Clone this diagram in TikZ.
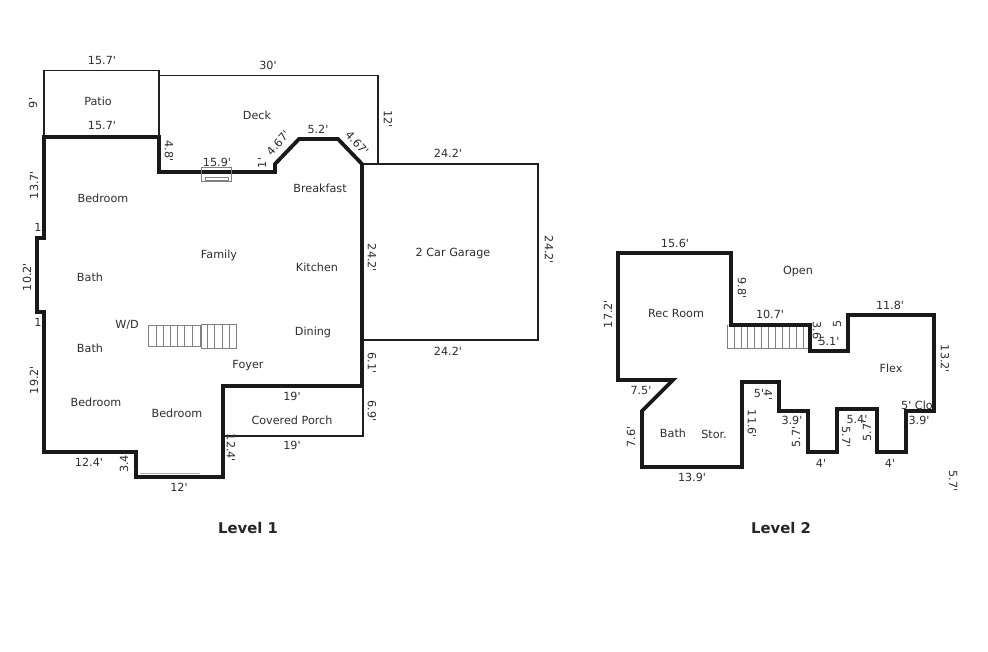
\documentclass[tikz,border=0pt]{standalone}
\usepackage{fontspec}
\setmainfont{DejaVu Sans}[Ligatures=TeXOff]
\tikzset{
  wall/.style={line width=3.8pt,draw=black!90,line join=miter},
  thin wall/.style={line width=1.2pt,draw=black!88},
  stair/.style={line width=0.55pt,draw=black!50},
  lbl/.style={font=\fontsize{11.2}{13}\selectfont,text=black!82,inner sep=0pt},
  up/.style={lbl,rotate=90},
  down/.style={lbl,rotate=-90},
  title/.style={font=\fontsize{14.8}{17}\selectfont\bfseries,text=black!85,inner sep=0pt}
}
\begin{document}
\begin{tikzpicture}[x=1pt,y=-1pt]
\useasboundingbox (0,0) rectangle (988,651);
\fill[white] (0,0) rectangle (988,651);
% Level 1 outlines
\draw[thin wall] (44,137) -- (44,70.7) -- (159,70.7) -- (159,137);
\draw[thin wall] (159,75.7) -- (378,75.7) -- (378,164);
\draw[thin wall] (362,164) -- (538,164) -- (538,340) -- (362,340);
\draw[thin wall] (223,386) -- (223,436) -- (363,436) -- (363,386);
\draw[stair,draw=black!30,line width=1.5pt] (140,473.5) -- (200,473.5);
\draw[wall] (44,137) -- (159,137) -- (159,172) -- (275,172) -- (275,164) -- (299,139) -- (338,139) -- (362,164) -- (362,386) -- (223,386) -- (223,477) -- (136,477) -- (136,452) -- (44,452) -- (44,312) -- (37,312) -- (37,238) -- (44,238) -- cycle;
% window
\draw[stair] (201.7,167) rectangle (231,181);
\draw[stair] (205,177) rectangle (228,180);
% Level 1 stairs
\draw[stair] (148,325) rectangle (200,346);
\foreach \x in {156,163,170,177,184,192} \draw[stair] (\x,325) -- (\x,346);
\draw[stair] (201,324) rectangle (236,348);
\foreach \x in {207,214,222,229} \draw[stair] (\x,324) -- (\x,348);
% Level 2 stairs
\draw[stair] (727,325) -- (727,348) -- (810,348);
\foreach \x in {734,741,747,754,761,768,775,782,789,796,803} \draw[stair] (\x,325) -- (\x,348);
% Level 2 outline
\draw[wall] (618,253) -- (731,253) -- (731,325) -- (810,325) -- (810,351) -- (848,351) -- (848,315) -- (934,315) -- (934,411) -- (906,411) -- (906,452) -- (877,452) -- (877,409) -- (837,409) -- (837,452) -- (808,452) -- (808,411) -- (779,411) -- (779,382) -- (742,382) -- (742,467) -- (642,467) -- (642,411) -- (673,380) -- (618,380) -- cycle;
% Level 1 labels
\node[lbl] (a1) at (102,60) {15.7'};
\node[lbl] (a2) at (98,101) {Patio};
\node[lbl] (a3) at (102,125) {15.7'};
\node[up] (a4) at (33,103) {9'};
\node[lbl] (a5) at (268,65) {30'};
\node[lbl] (a6) at (257,115) {Deck};
\node[down] (a7) at (388,119) {12'};
\node[lbl] (a8) at (318,129) {5.2'};
\node[lbl,rotate=48] (a9) at (278,143) {4.67'};
\node[lbl,rotate=-48] (a10) at (357,143) {4.67'};
\node[up] (a11) at (262,163) {1'};
\node[down] (a12) at (169,151) {4.8'};
\node[lbl] (a13) at (217,162) {15.9'};
\node[up] (a14) at (34,185) {13.7'};
\node[lbl] (a15) at (38,227) {1};
\node[up] (a16) at (27,277) {10.2'};
\node[lbl] (a17) at (38,322) {1};
\node[up] (a18) at (34,380) {19.2'};
\node[lbl] (a19) at (103,198) {Bedroom};
\node[lbl] (a20) at (320,188) {Breakfast};
\node[lbl] (a21) at (219,255) {Family};
\node[lbl] (a22) at (317,267) {Kitchen};
\node[lbl] (a23) at (90,277) {Bath};
\node[lbl] (a24) at (127,325) {W/D};
\node[lbl] (a25) at (90,348) {Bath};
\node[lbl] (a26) at (313,332) {Dining};
\node[lbl] (a27) at (248,366) {Foyer};
\node[lbl] (a28) at (96,402) {Bedroom};
\node[lbl] (a29) at (177,413) {Bedroom};
\node[lbl] (a30) at (292,420) {Covered Porch};
\node[lbl] (a31) at (292,396) {19'};
\node[lbl] (a32) at (292,445) {19'};
\node[down] (a33) at (372,258) {24.2'};
\node[down] (a34) at (372,363) {6.1'};
\node[down] (a35) at (372,411) {6.9'};
\node[down] (a36) at (231,448) {12.4'};
\node[up] (a37) at (124,464) {3.4};
\node[lbl] (a38) at (89,462) {12.4'};
\node[lbl] (a39) at (179,487) {12'};
\node[lbl] (a40) at (448,153) {24.2'};
\node[lbl] (a41) at (453,254) {2 Car Garage};
\node[down] (a42) at (549,250) {24.2'};
\node[lbl] (a43) at (448,351) {24.2'};
\node[title] (a44) at (248,528) {Level 1};
% Level 2 labels
\node[lbl] (b1) at (675,243) {15.6'};
\node[up] (b2) at (608,314) {17.2'};
\node[lbl] (b3) at (676,313) {Rec Room};
\node[down] (b4) at (742,288) {9.8'};
\node[lbl] (b5) at (770,314) {10.7'};
\node[down] (b6) at (817,332) {3.6'};
\node[lbl] (b7) at (829,341) {5.1'};
\node[up] (b8) at (837,324) {5};
\node[lbl] (b9) at (890,305) {11.8'};
\node[down] (b10) at (945,359) {13.2'};
\node[lbl] (b11) at (891,368) {Flex};
\node[lbl] (b12) at (798,272) {Open};
\node[lbl] (b13) at (641,390) {7.5'};
\node[up] (b14) at (631,437) {7.6'};
\node[lbl] (b15) at (673,433) {Bath};
\node[lbl] (b16) at (714,434) {Stor.};
\node[lbl] (b17) at (692,477) {13.9'};
\node[down] (b18) at (752,424) {11.6'};
\node[lbl] (b19) at (759,393) {5'};
\node[down] (b20) at (768,395) {4'};
\node[lbl] (b21) at (792,420) {3.9'};
\node[up] (b22) at (796,437) {5.7'};
\node[lbl] (b23) at (821,463) {4'};
\node[down] (b24) at (846,437) {5.7'};
\node[lbl] (b25) at (857,419) {5.4'};
\node[up] (b26) at (867,431) {5.7'};
\node[lbl] (b27) at (890,463) {4'};
\node[lbl] (b28) at (917,405) {5' Clo};
\node[lbl] (b29) at (919,420) {3.9'};
\node[down] (b30) at (953,481) {5.7'};
\node[title] (b31) at (781,528) {Level 2};
\end{tikzpicture}
\end{document}
